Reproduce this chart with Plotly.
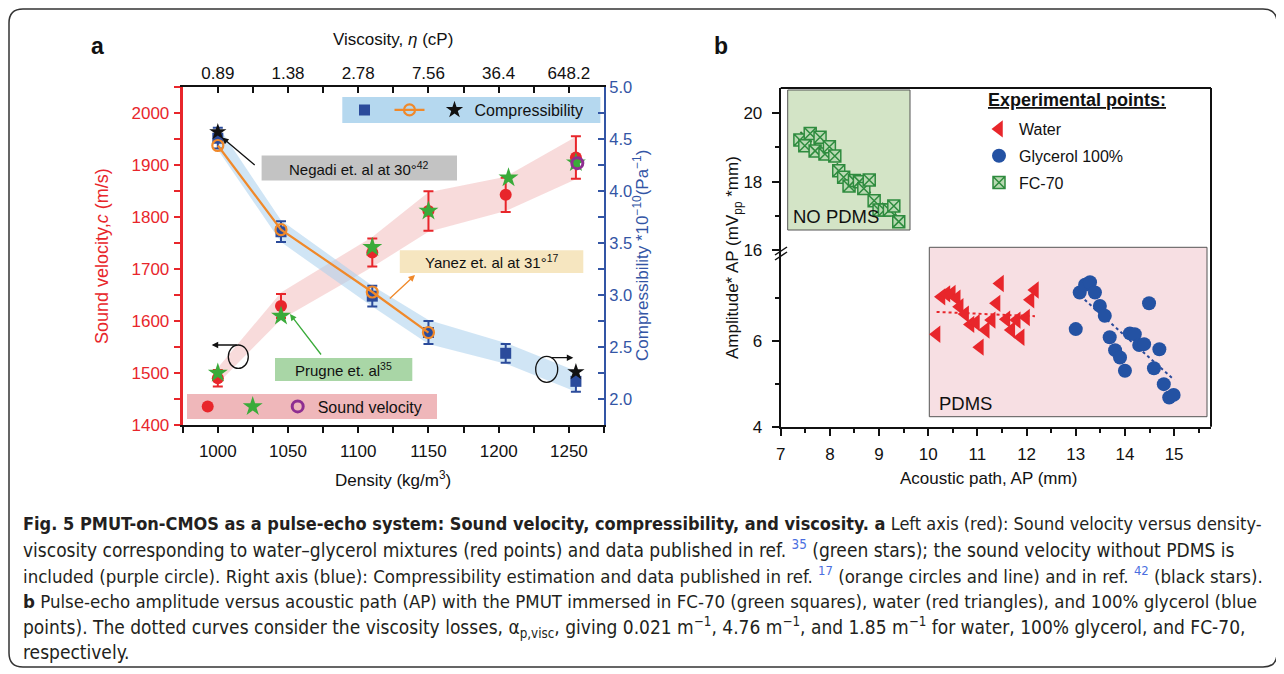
import plotly.graph_objects as go

W, H = 1284, 674
OFF = 8  # the page places the figure 8px from the top-left corner
FONT = "Liberation Sans, Arial, Helvetica, sans-serif"
CAP_FONT = "Liberation Sans Narrow, Arial Narrow, DejaVu Sans Condensed, sans-serif"

def X(p):
    return (p - OFF) / W

def Y(p):
    return 1 - (p - OFF) / H

# ---------------- Panel a data ----------------
density = [1000, 1045, 1110, 1150, 1205, 1255]
sound_velocity = [1490, 1629, 1732, 1812, 1843, 1915]
sound_velocity_err = [16, 23, 27, 38, 33, 41]
velocity_band_upper = [1510, 1655, 1762, 1848, 1878, 1955]
velocity_band_lower = [1480, 1603, 1704, 1772, 1812, 1873]
prugne_density = [1000, 1045, 1110, 1150, 1207, 1255]
prugne_velocity = [1500, 1610, 1742, 1812, 1876, 1905]
no_pdms_density = [1256]
no_pdms_velocity = [1904]
compressibility = [4.51, 3.61, 2.99, 2.64, 2.44, 2.17]
compressibility_err = [0.10, 0.10, 0.10, 0.11, 0.09, 0.10]
compress_band_upper = [4.63, 3.72, 3.09, 2.76, 2.54, 2.27]
compress_band_lower = [4.40, 3.51, 2.89, 2.53, 2.34, 2.07]
yanez_density = [1000, 1045, 1110, 1150]
yanez_compress = [4.44, 3.63, 3.03, 2.64]
negadi_density = [1000, 1255]
negadi_compress = [4.57, 2.26]
density_ticks = [1000, 1050, 1100, 1150, 1200, 1250]
viscosity_labels = ["0.89", "1.38", "2.78", "7.56", "36.4", "648.2"]
velocity_ticks = [1400, 1500, 1600, 1700, 1800, 1900, 2000]
compress_ticks = [2.0, 2.5, 3.0, 3.5, 4.0, 4.5, 5.0]

# ---------------- Panel b data ----------------
water_ap = [10.17, 10.27, 10.37, 10.48, 10.58, 10.64, 10.75, 10.86, 10.97, 11.05, 11.17,
            11.29, 11.39, 11.46, 11.59, 11.69, 11.80, 11.88, 11.99, 12.08, 12.17]
water_amp = [6.15, 7.02, 7.09, 7.10, 6.99, 6.79, 6.62, 6.38, 6.42, 5.85, 6.25,
             6.48, 6.87, 7.33, 6.50, 6.25, 6.48, 6.08, 6.54, 6.95, 7.18]
glycerol_ap = [13.00, 13.08, 13.19, 13.29, 13.39, 13.49, 13.59, 13.69, 13.80, 13.90, 14.00,
               14.10, 14.20, 14.29, 14.39, 14.49, 14.59, 14.70, 14.79, 14.90, 14.99]
glycerol_amp = [6.27, 7.12, 7.30, 7.36, 7.12, 6.81, 6.58, 6.08, 5.78, 5.61, 5.30,
                6.17, 6.15, 5.90, 5.92, 6.87, 5.36, 5.80, 4.99, 4.68, 4.74]
fc70_ap = [7.39, 7.49, 7.60, 7.70, 7.80, 7.90, 7.99, 8.10, 8.18, 8.28, 8.39,
           8.50, 8.60, 8.69, 8.80, 8.90, 9.00, 9.11, 9.21, 9.30, 9.40]
fc70_amp = [19.22, 19.05, 19.41, 18.90, 19.30, 18.81, 19.02, 18.75, 18.32, 18.13, 17.87,
            18.03, 18.00, 17.80, 18.05, 17.44, 17.17, 17.17, 17.17, 17.29, 16.83]
water_fit_ap = [10.17, 12.17]
water_fit_amp = [6.67, 6.57]
glycerol_fit_ap = [13.0, 15.0]
glycerol_fit_amp = [7.14, 5.09]
fc70_fit_ap = [7.40, 9.40]
fc70_fit_amp = [19.45, 16.95]

RED = "#e8262b"
GREEN = "#3aab3a"
PURPLE = "#8e2e91"
BLUE = "#2b4b9b"
ORANGE = "#f0892a"
AXBLUE = "#3355a5"

fig = go.Figure()

# bands
fig.add_trace(go.Scatter(x=density + density[::-1], y=velocity_band_upper + velocity_band_lower[::-1],
                         fill="toself", fillcolor="rgba(242,190,190,0.55)", line=dict(width=0),
                         mode="lines", hoverinfo="skip", showlegend=False, xaxis="x", yaxis="y"))
fig.add_trace(go.Scatter(x=density + density[::-1], y=compress_band_upper + compress_band_lower[::-1],
                         fill="toself", fillcolor="rgba(170,208,236,0.55)", line=dict(width=0),
                         mode="lines", hoverinfo="skip", showlegend=False, xaxis="x2", yaxis="y2"))

# sound velocity
fig.add_trace(go.Scatter(x=density, y=sound_velocity, mode="markers", name="",
                         marker=dict(color=RED, size=12),
                         error_y=dict(type="data", array=sound_velocity_err, color=RED, thickness=2, width=5),
                         xaxis="x", yaxis="y", legend="legend"))
fig.add_trace(go.Scatter(x=prugne_density, y=prugne_velocity, mode="markers", name="",
                         marker=dict(color=GREEN, size=15, symbol="star"),
                         xaxis="x", yaxis="y", legend="legend"))
fig.add_trace(go.Scatter(x=no_pdms_density, y=no_pdms_velocity, mode="markers", name="Sound velocity",
                         marker=dict(color=PURPLE, size=11, symbol="circle-open", line=dict(width=3, color=PURPLE)),
                         xaxis="x", yaxis="y", legend="legend"))

# compressibility (top density axis x2 overlays x with identical range)
fig.add_trace(go.Scatter(x=density, y=compressibility, mode="markers", name="",
                         marker=dict(color=BLUE, size=11, symbol="square"),
                         error_y=dict(type="data", array=compressibility_err, color=BLUE, thickness=2, width=5),
                         xaxis="x2", yaxis="y2", legend="legend2"))
fig.add_trace(go.Scatter(x=yanez_density, y=yanez_compress, mode="lines+markers", name="",
                         line=dict(color=ORANGE, width=2.2),
                         marker=dict(color=ORANGE, size=11, symbol="circle-open", line=dict(width=2.2, color=ORANGE)),
                         xaxis="x2", yaxis="y2", legend="legend2"))
fig.add_trace(go.Scatter(x=negadi_density, y=negadi_compress, mode="markers", name="Compressibility",
                         marker=dict(color="#111111", size=13, symbol="star"),
                         xaxis="x2", yaxis="y2", legend="legend2"))

# panel b
fig.add_trace(go.Scatter(x=water_fit_ap, y=water_fit_amp, mode="lines", line=dict(color=RED, width=2, dash="dot"),
                         showlegend=False, xaxis="x3", yaxis="y3"))
fig.add_trace(go.Scatter(x=glycerol_fit_ap, y=glycerol_fit_amp, mode="lines", line=dict(color=BLUE, width=2, dash="dot"),
                         showlegend=False, xaxis="x3", yaxis="y3"))
fig.add_trace(go.Scatter(x=fc70_fit_ap, y=fc70_fit_amp, mode="lines", line=dict(color="#2c7a35", width=2, dash="dot"),
                         showlegend=False, xaxis="x3", yaxis="y4"))
fig.add_trace(go.Scatter(x=water_ap, y=water_amp, mode="markers", name="Water", legendgroup="w",
                         marker=dict(color=RED, size=15, symbol="triangle-left"),
                         xaxis="x3", yaxis="y3", legend="legend3"))
fig.add_trace(go.Scatter(x=glycerol_ap, y=glycerol_amp, mode="markers", name="Glycerol 100%", legendgroup="g",
                         marker=dict(color="#2452a3", size=14, symbol="circle"),
                         xaxis="x3", yaxis="y3", legend="legend3"))
fig.add_trace(go.Scatter(x=fc70_ap, y=fc70_amp, mode="markers", name="FC-70", legendgroup="f",
                         marker=dict(color="#b9d9b2", size=12, symbol="square-x", line=dict(color="#2e8b3e", width=1.5)),
                         xaxis="x3", yaxis="y4", legend="legend3"))

# ---------------- axes ----------------
xa_ticks = [975 + 25 * i for i in range(13)]
xa_text = [str(v) if v in density_ticks else "" for v in xa_ticks]
xa2_text = [viscosity_labels[density_ticks.index(v)] if v in density_ticks else "" for v in xa_ticks]
ya_ticks = [1400 + 50 * i for i in range(14)]
ya_text = [str(v) if v in velocity_ticks else "" for v in ya_ticks]
ya2_ticks = [2.0 + 0.25 * i for i in range(13)]
ya2_text = [f"{v:.1f}" if v in compress_ticks else "" for v in ya2_ticks]

tickfont = dict(family=FONT, size=17, color="#111111")

fig.update_layout(
    width=W, height=H, margin=dict(l=0, r=0, t=0, b=0, autoexpand=False),
    paper_bgcolor="white", plot_bgcolor="rgba(0,0,0,0)",
    font=dict(family=FONT, size=16, color="#111111"),
    xaxis=dict(domain=[X(182.7), X(604)], range=[975, 1275], anchor="y",
               tickmode="array", tickvals=xa_ticks, ticktext=xa_text,
               ticks="outside", ticklen=6, tickwidth=1.5, tickcolor="#111",
               showline=True, linecolor="#111", linewidth=2, showgrid=False, zeroline=False,
               tickfont=tickfont, ticklabelstandoff=4),
    xaxis2=dict(overlaying="x", side="top", anchor="y", range=[975, 1275],
                tickmode="array", tickvals=xa_ticks, ticktext=xa2_text,
                ticks="inside", ticklen=6, tickwidth=1.5, tickcolor="#111",
                showline=True, linecolor="#111", linewidth=2, showgrid=False, zeroline=False,
                tickfont=tickfont, ticklabelstandoff=0),
    yaxis=dict(domain=[Y(425), Y(87.3)], range=[1400, 2050], anchor="x",
               tickmode="array", tickvals=ya_ticks, ticktext=ya_text,
               ticks="outside", ticklen=6, tickwidth=1.5, tickcolor=RED,
               showline=True, linecolor=RED, linewidth=3, showgrid=False, zeroline=False,
               tickfont=dict(family=FONT, size=17, color=RED), ticklabelstandoff=1),
    yaxis2=dict(overlaying="y", side="right", anchor="x", range=[1.75, 5.0],
                tickmode="array", tickvals=ya2_ticks, ticktext=ya2_text,
                ticks="inside", ticklen=6, tickwidth=1.5, tickcolor=AXBLUE,
                showline=True, linecolor=AXBLUE, linewidth=2, showgrid=False, zeroline=False,
                tickfont=dict(family=FONT, size=16.5, color=AXBLUE), ticklabelstandoff=0),
    xaxis3=dict(domain=[X(780.7), X(1211)], range=[7, 15.75], anchor="y3",
                tickmode="linear", tick0=7, dtick=1,
                ticks="outside", ticklen=7, tickwidth=1.5, tickcolor="#111",
                minor=dict(dtick=0.5, tick0=7, ticks="outside", ticklen=4, tickwidth=1.5, tickcolor="#111"),
                showline=True, linecolor="#111", linewidth=2, showgrid=False, zeroline=False,
                tickfont=dict(family=FONT, size=17, color="#111"), ticklabelstandoff=4),
    yaxis3=dict(domain=[Y(426.7), Y(250)], range=[4, 8.11], anchor="x3",
                tickmode="array", tickvals=[4, 6],
                ticks="outside", ticklen=7, tickwidth=1.5, tickcolor="#111",
                minor=dict(tickmode="array", tickvals=[5, 7], ticks="outside", ticklen=4, tickwidth=1.5, tickcolor="#111"),
                showline=True, linecolor="#111", linewidth=2, showgrid=False, zeroline=False,
                tickfont=dict(family=FONT, size=17, color="#111"), ticklabelstandoff=6),
    yaxis4=dict(domain=[Y(250), Y(88)], range=[16, 20.74], anchor="x3",
                tickmode="array", tickvals=[16, 18, 20],
                ticks="outside", ticklen=7, tickwidth=1.5, tickcolor="#111",
                minor=dict(tickmode="array", tickvals=[17, 19], ticks="outside", ticklen=4, tickwidth=1.5, tickcolor="#111"),
                showline=True, linecolor="#111", linewidth=2, showgrid=False, zeroline=False,
                tickfont=dict(family=FONT, size=17, color="#111"), ticklabelstandoff=6),
    legend=dict(orientation="h", x=X(187.7), xanchor="left", y=Y(406.5), yanchor="middle",
                bgcolor="rgba(0,0,0,0)", font=dict(family=FONT, size=16, color="#111")),
    legend2=dict(orientation="h", x=X(344.5), xanchor="left", y=Y(110), yanchor="middle",
                 bgcolor="rgba(0,0,0,0)", font=dict(family=FONT, size=16, color="#111")),
    legend3=dict(orientation="v", x=X(979), xanchor="left", y=Y(112), yanchor="top",
                 bgcolor="rgba(0,0,0,0)", font=dict(family=FONT, size=16, color="#111"),
                 tracegroupgap=3, traceorder="grouped"),
)

shapes = []
def rect(x0, y0, x1, y1, fill, line=None, layer="below"):
    shapes.append(dict(type="rect", xref="paper", yref="paper", x0=X(x0), x1=X(x1), y0=Y(y1), y1=Y(y0),
                       fillcolor=fill, line=dict(width=1 if line else 0, color=line or fill), layer=layer))

# legend / label boxes (panel a)
rect(342.3, 97, 600.4, 123, "#b5d8ef")
rect(187, 394, 437, 419, "#efb7ba")
rect(261.6, 155.4, 457, 180.5, "#c3c3c3", layer="above")
rect(399.8, 250.2, 583.3, 273, "#f6e6c0", layer="above")
rect(275, 358, 412.3, 381, "#a9d6a6", layer="above")
# panel b boxes
rect(787.7, 90, 910, 230, "#d3e4c6", line="#555555")
rect(929.3, 247.3, 1207, 416.7, "#f7dfe3", line="#555555")

def line(x0, y0, x1, y1, color="#111", width=2):
    shapes.append(dict(type="line", xref="paper", yref="paper", x0=X(x0), x1=X(x1), y0=Y(y0), y1=Y(y1),
                       line=dict(color=color, width=width), layer="above"))

# frame of panel b
line(780.7, 88, 1211, 88)
line(1211, 88, 1211, 426.7)
# axis break marks
line(775, 255, 787, 247, width=1.5)
line(775, 260, 787, 252, width=1.5)

# circles in panel a
shapes.append(dict(type="circle", xref="paper", yref="paper", x0=X(228.3), x1=X(248.3), y0=Y(368.4), y1=Y(345),
                   line=dict(color="#111", width=1.3), layer="above"))
shapes.append(dict(type="circle", xref="paper", yref="paper", x0=X(535.7), x1=X(557.7), y0=Y(382.3), y1=Y(356.3),
                   line=dict(color="#111", width=1.3), layer="above"))

# rounded outer border
x0, y0, x1, y1, r = 9, 9, 1277, 667, 14
path = (f"M {X(x0 + r)},{Y(y0)} L {X(x1 - r)},{Y(y0)} Q {X(x1)},{Y(y0)} {X(x1)},{Y(y0 + r)} "
        f"L {X(x1)},{Y(y1 - r)} Q {X(x1)},{Y(y1)} {X(x1 - r)},{Y(y1)} "
        f"L {X(x0 + r)},{Y(y1)} Q {X(x0)},{Y(y1)} {X(x0)},{Y(y1 - r)} "
        f"L {X(x0)},{Y(y0 + r)} Q {X(x0)},{Y(y0)} {X(x0 + r)},{Y(y0)} Z")
shapes.append(dict(type="path", xref="paper", yref="paper", path=path, line=dict(color="#333", width=1.5)))

fig.update_layout(shapes=shapes)

ann = []
def text(x, y, s, size=16, color="#111", xanchor="center", angle=0, family=FONT):
    ann.append(dict(xref="paper", yref="paper", x=X(x), y=Y(y), text=s, showarrow=False,
                    xanchor=xanchor, yanchor="middle", textangle=angle,
                    font=dict(family=family, size=size, color=color)))

def arrow(hx, hy, tx, ty, color):
    ann.append(dict(xref="paper", yref="paper", x=X(hx), y=Y(hy), ax=tx - hx, ay=ty - hy,
                    axref="pixel", ayref="pixel", text="", showarrow=True, arrowhead=2,
                    arrowsize=1, arrowwidth=1.3, arrowcolor=color, standoff=0, startstandoff=0))

text(98, 46, "<b>a</b>", size=23)
text(721, 46, "<b>b</b>", size=23)
text(393, 40, "Viscosity, <i>η</i> (cP)", size=17)
text(393, 479, "Density (kg/m<sup>3</sup>)", size=17)
text(102, 256, "Sound velocity,<i>c</i> (m/s)", size=18, color=RED, angle=-90)
text(641, 256, "Compressibility *10<sup>−10</sup>(Pa<sup>−1</sup>)", size=17, color=AXBLUE, angle=-90)
text(734, 258, "Amplitude* AP (mV<sub>pp</sub> *mm)", size=17, angle=-90)
text(988, 478, "Acoustic path, AP (mm)", size=17)
text(986, 99.5, "<b><u>Experimental points:</u></b>", size=18, xanchor="left")
text(359.3, 168, "Negadi et. al at 30°<sup>42</sup>", size=15)
text(491.5, 261.6, "Yanez et. al at 31°<sup>17</sup>", size=15)
text(343.6, 369.5, "Prugne et. al<sup>35</sup>", size=15)
text(791, 216.7, "NO PDMS", size=18.5, xanchor="left")
text(937, 403.5, "PDMS", size=18.5, xanchor="left")

arrow(222, 137.5, 256.2, 166.2, "#111")
arrow(415, 275, 388.3, 299.8, ORANGE)
arrow(290, 314, 322.2, 356, GREEN)
arrow(211.7, 345, 238.3, 345, "#111")
arrow(573.3, 357.7, 550, 357.7, "#111")

LINK = "#4a6ee0"
cap_lines = [
    "<b>Fig. 5 PMUT-on-CMOS as a pulse-echo system: Sound velocity, compressibility, and viscosity. a</b> Left axis (red): Sound velocity versus density-",
    f"viscosity corresponding to water–glycerol mixtures (red points) and data published in ref. <sup><span style='color:{LINK}'>35</span></sup> (green stars); the sound velocity without PDMS is",
    f"included (purple circle). Right axis (blue): Compressibility estimation and data published in ref. <sup><span style='color:{LINK}'>17</span></sup> (orange circles and line) and in ref. <sup><span style='color:{LINK}'>42</span></sup> (black stars).",
    "<b>b</b> Pulse-echo amplitude versus acoustic path (AP) with the PMUT immersed in FC-70 (green squares), water (red triangles), and 100% glycerol (blue",
    "points). The dotted curves consider the viscosity losses, α<sub>p,visc</sub>, giving 0.021 m<sup>−1</sup>, 4.76 m<sup>−1</sup>, and 1.85 m<sup>−1</sup> for water, 100% glycerol, and FC-70,",
    "respectively.",
]
cap_y = [523, 549, 575, 601, 627, 652]
cap_size = [18, 19, 18.5, 18.5, 19, 19]
for s, yy, fs in zip(cap_lines, cap_y, cap_size):
    text(21, yy, s, size=fs, color="#231f20", xanchor="left", family=CAP_FONT)

fig.update_layout(annotations=ann)
fig.write_html("out.html")
